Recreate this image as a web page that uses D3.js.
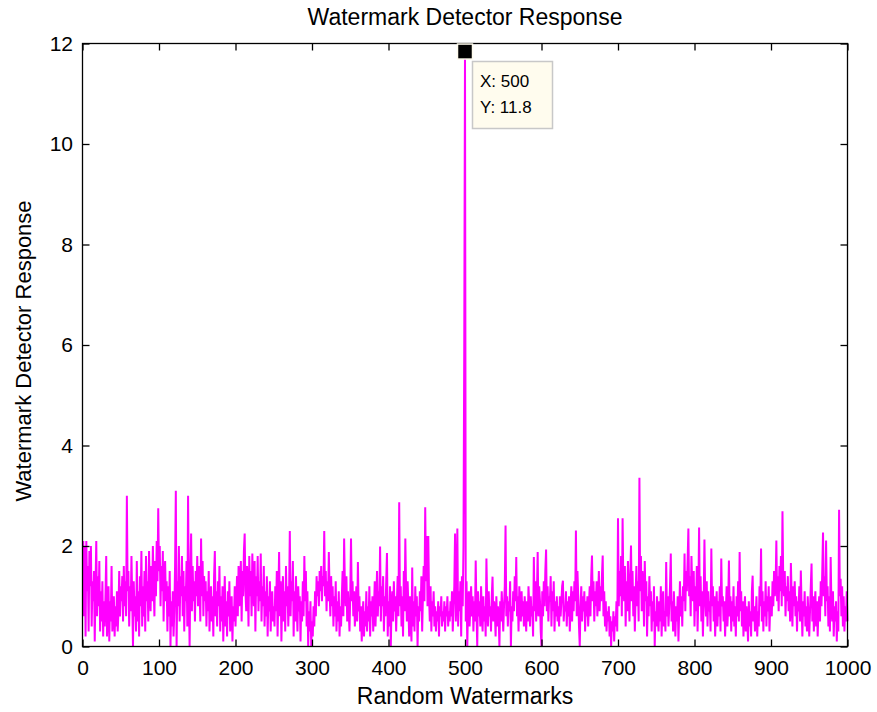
<!DOCTYPE html>
<html><head><meta charset="utf-8">
<script src="https://cdn.jsdelivr.net/npm/d3@7"></script>
<style>body{margin:0;background:#fff}svg{display:block}text{font-family:"Liberation Sans",Arial,sans-serif;fill:#000}</style>
</head><body>
<script>
const titleText = "Watermark Detector Response";
const xLabel = "Random Watermarks";
const yLabel = "Watermark Detector Response";
const xTicks = [0,100,200,300,400,500,600,700,800,900,1000];
const yTicks = [0,2,4,6,8,10,12];
const tipPoint = {x: 500, y: 11.8};
const tipLines = ["X: 500", "Y: 11.8"];
// detector response for watermarks 1..1000
const response = [
2.1,0.6,2.0,0.2,2.1,1.1,1.6,0.3,1.9,1.2, 2.0,0.4,1.3,0.9,1.5,0.1,1.2,2.1,0.6,1.4, 0.8,1.7,0.3,1.1,0.5,1.3,0.2,0.9,0.4,1.0, 1.8,0.2,0.7,1.2,0.1,0.9,0.5,1.6,0.3,0.6, 1.0,0.2,0.8,0.4,1.1,0.3,0.7,1.5,0.6,1.2,
0.9,1.4,0.5,1.6,0.8,1.3,0.6,3.0,1.1,1.5, 0.4,1.2,0.7,1.8,0.9,0.0,1.3,0.6,1.0,0.3, 1.7,0.5,1.1,0.2,1.4,0.8,1.9,0.4,1.2,0.6, 1.5,0.3,1.8,0.9,1.3,0.5,1.9,1.1,0.7,1.6, 0.9,2.0,1.2,0.6,1.7,1.0,2.1,1.3,2.75,1.5,
2.0,0.8,1.6,1.1,1.9,0.5,1.4,1.7,0.9,1.3, 0.3,1.2,0.6,1.5,0.0,0.9,0.4,1.1,0.2,0.7, 1.6,3.1,0.0,1.3,0.8,2.0,0.5,1.4,1.0,1.8, 0.6,1.5,0.3,1.2,0.9,1.7,0.4,3.0,1.1,0.0, 1.4,2.25,0.7,1.6,0.9,1.3,0.5,1.5,1.0,1.8,
0.8,1.6,1.2,0.5,2.15,1.0,1.7,0.6,1.4,0.9, 1.3,0.4,1.1,0.7,1.5,0.3,0.9,1.2,0.5,1.0, 0.2,1.4,1.9,0.6,1.1,0.4,1.3,0.8,1.6,0.3, 1.0,0.5,1.2,0.1,0.8,1.4,0.4,0.9,0.2,1.1, 0.6,1.3,0.3,0.7,1.0,0.1,0.8,0.5,1.2,0.4,
0.9,1.4,0.6,1.6,0.8,1.2,1.7,0.5,1.5,1.0, 1.9,2.25,1.1,0.7,1.6,1.3,0.4,1.8,1.0,1.5, 0.6,1.85,1.2,0.8,1.7,0.3,1.4,1.0,1.8,0.7, 1.3,0.9,1.85,0.5,1.2,0.8,1.6,0.4,1.1,0.6, 1.4,0.2,1.0,0.7,1.3,0.3,0.9,1.1,0.5,0.8,
0.4,1.2,0.7,1.5,0.2,1.0,1.88,0.6,1.3,0.1, 0.9,1.4,0.5,1.1,0.3,1.6,0.8,1.2,0.4,1.0, 2.3,0.6,1.3,0.9,1.7,0.2,1.1,0.5,1.4,0.8, 0.3,1.2,0.7,1.0,0.1,0.9,0.5,1.3,0.6,1.8, 0.9,1.5,0.4,1.1,0.0,0.7,0.3,0.9,0.0,0.5,
0.2,0.8,0.4,1.1,0.6,1.4,1.0,1.3,0.8,1.5, 1.1,1.6,0.9,1.4,1.2,2.3,1.0,1.5,0.7,1.3, 0.9,1.88,1.1,0.6,1.4,0.8,1.2,0.4,1.0,0.6, 1.3,0.3,0.9,0.5,1.1,0.2,0.8,0.4,1.0,1.5, 0.6,2.15,1.2,0.8,1.4,0.5,1.1,0.7,0.3,1.0,
2.15,0.9,1.3,0.6,1.1,0.4,0.8,1.2,0.5,1.68, 0.7,1.0,0.3,0.8,0.1,0.6,0.9,0.2,0.7,0.4, 1.1,0.3,0.8,0.5,1.2,0.2,0.9,0.6,1.0,0.3, 0.7,1.3,0.4,0.9,1.5,0.6,1.1,0.8,1.99,0.5, 1.2,0.8,1.4,0.3,1.0,0.6,1.3,1.86,0.2,0.9,
0.4,1.2,0.0,0.8,1.1,0.5,1.3,0.7,1.0,0.3, 0.9,1.4,0.6,2.87,0.8,1.2,0.4,1.0,0.2,1.5, 0.7,2.15,1.1,0.5,1.3,0.8,0.2,1.0,0.6,0.1, 1.57,0.4,0.9,0.3,1.2,0.6,1.0,0.0,0.8,0.5, 1.1,0.7,1.4,0.3,1.0,1.6,0.9,2.77,1.3,2.2,
0.8,2.2,1.0,0.5,1.2,0.3,0.9,0.6,1.1,0.4, 0.8,0.3,0.7,0.5,0.9,0.2,0.8,0.6,1.0,0.4, 0.7,0.5,0.9,0.3,0.8,0.6,1.0,0.4,0.7,0.5, 0.9,0.6,1.1,0.3,0.8,1.2,2.25,0.5,1.0,2.35, 0.4,1.1,0.7,1.3,0.2,1.4,0.8,2.0,5.9,11.8,
0.5,1.3,0.0,0.9,1.1,0.4,0.8,1.2,0.6,1.0, 0.3,0.9,0.5,1.71,0.7,0.0,1.1,0.6,0.9,0.4, 1.2,0.7,0.3,1.0,0.5,0.8,0.2,1.75,0.9,0.4, 1.1,0.6,0.8,0.3,1.0,1.39,0.5,0.9,0.7,0.2, 1.0,0.4,0.8,0.6,0.0,0.9,0.5,1.1,0.7,0.3,
0.8,1.2,2.41,0.6,1.0,0.4,0.9,0.7,1.3,0.0, 0.8,0.5,1.1,0.7,1.4,0.9,1.78,0.6,1.0,0.3, 1.2,0.8,0.5,1.1,0.6,0.9,0.4,1.0,0.7,0.3, 0.9,0.5,1.2,0.8,0.4,1.0,0.6,0.8,0.2,1.78, 0.7,1.3,0.5,1.0,1.88,0.6,1.2,0.9,0.3,0.0,
1.1,0.6,1.3,0.8,1.5,1.93,0.7,1.2,0.5,1.0, 0.9,1.4,0.4,1.1,0.7,1.3,0.3,0.9,0.6,1.0, 0.5,0.8,0.4,1.0,0.6,0.9,1.2,1.31,0.5,0.8, 0.7,1.1,0.4,0.9,0.6,1.0,0.3,0.8,1.2,0.5, 1.1,0.7,1.3,0.9,2.31,0.6,1.5,1.0,0.4,0.0,
0.8,1.2,0.5,1.0,0.7,1.1,0.3,0.9,0.6,1.0, 0.4,0.8,1.2,0.6,1.4,1.81,0.9,1.3,0.5,1.1, 0.8,1.3,0.6,1.0,1.5,0.7,1.2,0.9,1.4,1.81, 0.6,1.1,0.4,0.9,0.3,0.7,0.5,0.8,0.2,0.6, 0.0,0.5,0.3,0.7,0.1,0.6,0.4,0.9,0.3,2.55,
0.8,1.5,1.0,1.8,0.6,2.55,1.2,0.9,1.6,0.4, 1.3,0.7,1.7,1.1,0.5,1.4,2.01,0.9,1.5,0.6, 1.2,0.3,1.0,1.6,0.8,1.3,0.5,3.36,1.1,1.8, 0.7,1.5,1.2,0.4,1.7,0.9,1.3,0.2,1.0,0.6, 1.4,0.8,1.1,0.3,0.9,0.5,1.2,0.0,0.7,0.4,
1.0,0.6,0.3,0.9,0.5,1.2,0.2,0.8,1.1,0.4, 0.7,0.3,1.68,0.6,1.0,0.4,0.8,1.2,1.85,0.5, 0.9,0.3,1.1,0.6,0.2,0.8,0.5,1.0,0.1,0.7, 1.3,0.6,1.0,0.4,1.2,0.9,1.85,0.7,1.5,1.1, 1.7,2.35,1.0,1.4,0.6,1.8,1.2,0.9,1.5,0.4,
1.2,0.7,1.6,0.3,1.0,2.37,0.8,1.4,0.5,1.1, 0.2,0.9,2.13,1.0,0.6,1.3,0.4,1.1,0.7,0.9, 0.3,1.95,0.8,1.2,0.5,1.0,0.2,0.7,1.1,0.4, 0.9,0.6,1.2,0.3,1.75,0.8,1.0,0.5,0.9,0.2, 0.7,1.2,0.4,0.8,1.71,0.6,1.0,0.3,0.9,0.5,
1.2,0.4,0.8,0.2,1.0,0.6,1.3,0.5,1.88,0.7, 1.1,0.4,0.9,0.2,0.7,1.0,0.3,0.8,0.5,0.1, 0.9,0.4,0.7,0.2,1.1,1.41,0.5,0.8,0.3,0.6, 1.0,0.2,0.7,0.4,1.2,0.8,1.95,0.5,1.1,0.3, 0.9,0.6,1.3,0.4,1.0,0.7,1.2,0.3,0.8,1.0,
0.6,1.3,0.8,1.5,1.0,1.2,2.11,0.9,1.4,0.7, 1.6,1.1,1.8,0.8,2.69,1.3,1.0,1.5,0.6,1.2, 0.9,1.4,0.7,1.1,0.5,1.66,1.0,0.4,1.2,0.8, 1.3,0.6,1.0,0.3,0.9,0.7,1.2,0.5,1.51,0.8, 0.2,0.9,0.6,1.1,0.4,0.8,0.3,1.0,0.6,0.2,
0.7,1.2,1.65,0.5,1.0,0.3,0.8,1.1,0.4,0.9, 0.2,0.7,1.0,0.5,1.3,0.8,1.5,2.27,1.0,1.4, 0.6,2.11,0.9,1.2,0.4,1.0,0.3,1.78,0.8,0.5, 1.1,0.2,0.8,0.5,0.9,0.1,0.7,0.3,2.72,1.0, 1.35,0.6,1.2,0.4,1.0,0.3,0.8,0.5,1.1,0.5
];

const W = 877, H = 712;
const svg = d3.select("body").append("svg").attr("width", W).attr("height", H);
svg.append("rect").attr("width", W).attr("height", H).attr("fill", "#fff");

const x = d3.scaleLinear().domain([0, 1000]).range([82.5, 847.5]);
const y = d3.scaleLinear().domain([0, 12]).range([646.5, 43.5]);

// data line
const line = d3.line().x((d, i) => x(i + 1)).y(d => y(d));
svg.append("path").datum(response).attr("d", line)
  .attr("fill", "none").attr("stroke", "#ff00ff").attr("stroke-width", 2);

// axes
const tl = 7;
const gx = svg.append("g").attr("transform", `translate(0,${y(0)})`)
  .call(d3.axisBottom(x).tickValues(xTicks).tickFormat(d3.format("d")).tickSize(-tl).tickPadding(14));
const gxt = svg.append("g").attr("transform", `translate(0,${y(12)})`)
  .call(d3.axisTop(x).tickValues(xTicks).tickFormat("").tickSize(-tl));
const gy = svg.append("g").attr("transform", `translate(${x(0)},0)`)
  .call(d3.axisLeft(y).tickValues(yTicks).tickFormat(d3.format("d")).tickSize(-tl).tickPadding(10));
const gyr = svg.append("g").attr("transform", `translate(${x(1000)},0)`)
  .call(d3.axisRight(y).tickValues(yTicks).tickFormat("").tickSize(-tl));
[gx, gxt, gy, gyr].forEach(g => {
  g.select(".domain").remove();
  g.selectAll("line").attr("stroke", "#000").attr("stroke-width", 1.3);
  g.selectAll("text").attr("font-size", 21).attr("fill", "#000")
    .style("font-family", '"Liberation Sans", Arial, sans-serif');
});
gx.selectAll("text").attr("dy", "0.71em");
gy.selectAll("text").attr("x", -9.5);

// box
svg.append("rect").attr("x", x(0)).attr("y", y(12))
  .attr("width", x(1000) - x(0)).attr("height", y(0) - y(12))
  .attr("fill", "none").attr("stroke", "#000").attr("stroke-width", 1.3);

// labels
svg.append("text").attr("x", (x(0) + x(1000)) / 2).attr("y", 25)
  .attr("text-anchor", "middle").attr("font-size", 23).text(titleText);
svg.append("text").attr("x", (x(0) + x(1000)) / 2).attr("y", 704)
  .attr("text-anchor", "middle").attr("font-size", 23).text(xLabel);
svg.append("text").attr("transform", `translate(31,${(y(0) + y(12)) / 2 + 6}) rotate(-90)`)
  .attr("text-anchor", "middle").attr("font-size", 22).text(yLabel);

// data tip
const px = x(tipPoint.x), py = y(tipPoint.y);
svg.append("rect").attr("x", 472.5).attr("y", 61.5).attr("width", 80).attr("height", 67)
  .attr("fill", "#fffcee").attr("stroke", "#c8c8c8").attr("stroke-width", 1.5);
tipLines.forEach((t, i) => {
  svg.append("text").attr("x", 480).attr("y", 87 + i * 25.5).attr("font-size", 17).text(t);
});
svg.append("rect").attr("x", px - 7.5).attr("y", py - 9.5).attr("width", 15).attr("height", 15)
  .attr("fill", "#000").attr("stroke", "#fffcee").attr("stroke-width", 1.5);
</script>
</body></html>
